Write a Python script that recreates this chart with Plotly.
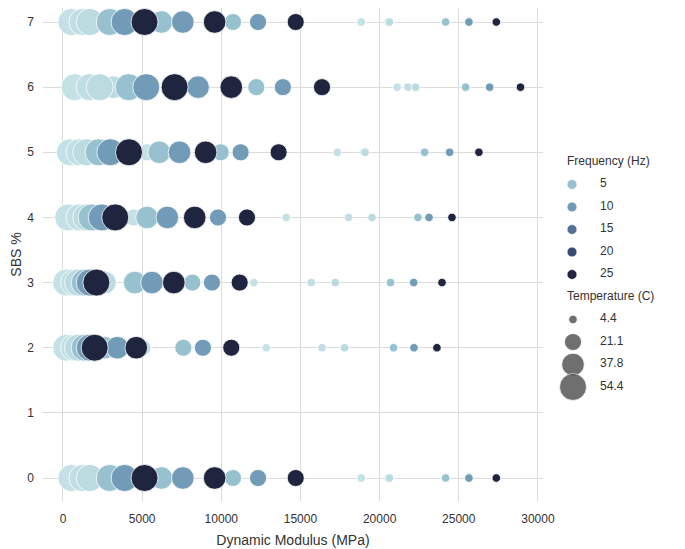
import numpy as np
import pandas as pd
import plotly.graph_objects as go

sbs_levels = [0, 2, 3, 4, 5, 6, 7]
frequencies = [0.1, 0.5, 1, 5, 10, 25]
temperatures = [4.4, 21.1, 37.8, 54.4]

# dynamic modulus (MPa); rows = temperature 4.4/21.1/37.8/54.4, cols = frequency
modulus_sbs0 = [18840, 20550, 20620, 24170, 25640, 27370,
                6250, 7570, 9580, 10740, 12320, 14700,
                2950, 3890, 5150, 6220, 7570, 9580,
                530, 1230, 1690, 2950, 3890, 5150]
modulus_sbs2 = [12840, 16360, 17790, 20880, 22170, 23620,
                3430, 4630, 5000, 7600, 8840, 10630,
                950, 1370, 1690, 2630, 3430, 4630,
                210, 700, 950, 1370, 1690, 2000]
modulus_sbs3 = [12060, 15680, 17200, 20690, 22150, 23940,
                4530, 5620, 7000, 8170, 9410, 11160,
                950, 1370, 2650, 4530, 5620, 7000,
                210, 700, 950, 1370, 1690, 2110]
modulus_sbs4 = [14100, 18040, 19520, 22420, 23120, 24570,
                4460, 5310, 6590, 8320, 9790, 11620,
                1810, 2450, 3300, 5310, 6590, 8320,
                330, 1050, 1470, 1810, 2450, 3300]
modulus_sbs5 = [17330, 19010, 19080, 22840, 24420, 26270,
                5300, 6080, 7360, 9960, 11220, 13620,
                2250, 2990, 4170, 6080, 7360, 9010,
                440, 1050, 1470, 2250, 2990, 4170]
modulus_sbs6 = [21100, 21790, 22270, 25430, 26950, 28900,
                8530, 10600, 10650, 12210, 13890, 16360,
                1690, 2320, 3160, 7050, 8530, 10630,
                740, 1680, 2320, 4150, 5260, 7050]
modulus_sbs7 = [18840, 20550, 20620, 24170, 25640, 27370,
                6250, 7570, 9580, 10740, 12320, 14700,
                2950, 3890, 5150, 6220, 7570, 9580,
                530, 1230, 1690, 2950, 3890, 5150]

hue_legend_ticks = [5, 10, 15, 20, 25]

FONT = "Liberation Sans, Arial, sans-serif"
TEXT = "#333333"
GRID = "#dcdcdc"


def cubehelix(x, start=0.0, rot=-0.2, hue=0.8):
    a = hue * x * (1 - x) / 2
    phi = 2 * np.pi * (start / 3 + rot * x)
    r = x + a * (-0.14861 * np.cos(phi) + 1.78277 * np.sin(phi))
    g = x + a * (-0.29227 * np.cos(phi) - 0.90649 * np.sin(phi))
    b = x + a * (1.97294 * np.cos(phi))
    return [int(round(255 * min(max(c, 0), 1))) for c in (r, g, b)]


# seaborn cubehelix_palette(rot=-.2): light (0.85) to dark (0.15)
colorscale = []
for t in np.linspace(0, 1, 21):
    r, g, b = cubehelix(0.85 - 0.7 * t)
    colorscale.append([float(t), f"rgb({r},{g},{b})"])


def size_px(temp, dmin=8.5, dmax=27):
    # marker area scales linearly with temperature
    frac = (temp - min(temperatures)) / (max(temperatures) - min(temperatures))
    return float(np.sqrt(dmin ** 2 + frac * (dmax ** 2 - dmin ** 2)))


tables = {0: modulus_sbs0, 2: modulus_sbs2, 3: modulus_sbs3, 4: modulus_sbs4,
          5: modulus_sbs5, 6: modulus_sbs6, 7: modulus_sbs7}
rows = []
for sbs in sbs_levels:
    vals = tables[sbs]
    for i, temp in enumerate(temperatures):
        for j, freq in enumerate(frequencies):
            rows.append({"sbs": sbs, "temp": temp, "freq": freq,
                         "modulus": vals[i * len(frequencies) + j]})
df = pd.DataFrame(rows).sort_values("temp", kind="stable")

fig = go.Figure()
fig.add_trace(go.Scatter(
    x=df["modulus"], y=df["sbs"], mode="markers", showlegend=False,
    marker=dict(color=df["freq"], colorscale=colorscale, cmin=min(frequencies),
                cmax=max(frequencies), size=[size_px(t) for t in df["temp"]],
                line=dict(color="white", width=0.8), opacity=1),
))

# legend built on a hidden side axis
n_hue = len(hue_legend_ticks)
hue_rows = list(range(1, n_hue + 1))
temp_rows = list(range(n_hue + 2, n_hue + 2 + len(temperatures)))
fig.add_trace(go.Scatter(
    x=[29] * n_hue, y=hue_rows, xaxis="x2", yaxis="y2", mode="markers",
    showlegend=False, hoverinfo="skip",
    marker=dict(color=hue_legend_ticks, colorscale=colorscale, cmin=min(frequencies),
                cmax=max(frequencies), size=10, line=dict(color="white", width=0.8)),
))
fig.add_trace(go.Scatter(
    x=[30] * len(temperatures), y=temp_rows, xaxis="x2", yaxis="y2", mode="markers",
    showlegend=False, hoverinfo="skip",
    marker=dict(color="#333333", size=[size_px(t) for t in temperatures],
                line=dict(color="white", width=0.8)),
))
fig.add_trace(go.Scatter(
    x=[57] * (n_hue + len(temperatures)), y=hue_rows + temp_rows,
    xaxis="x2", yaxis="y2", mode="text", showlegend=False, hoverinfo="skip",
    text=[str(v) for v in hue_legend_ticks] + [str(v) for v in temperatures],
    textposition="middle right", textfont=dict(family=FONT, size=12, color=TEXT),
))
fig.add_trace(go.Scatter(
    x=[24, 24], y=[0, n_hue + 1], xaxis="x2", yaxis="y2", mode="text",
    showlegend=False, hoverinfo="skip",
    text=["Frequency (Hz)", "Temperature (C)"],
    textposition="middle right", textfont=dict(family=FONT, size=12, color=TEXT),
))

fig.update_layout(
    width=669, height=541,
    margin=dict(l=35, r=0, t=0, b=48),
    paper_bgcolor="white", plot_bgcolor="white",
    font=dict(family=FONT, size=12, color=TEXT),
    xaxis=dict(domain=[0, 500 / 634], range=[-1263, 30320], tickformat="d",
               tickvals=list(range(0, 30001, 5000)), showgrid=True, gridcolor=GRID,
               gridwidth=1, zeroline=False, showline=False, ticks="",
               ticklabelstandoff=9, automargin=False,
               title=dict(text="Dynamic Modulus (MPa)", standoff=10),
               tickfont=dict(size=12, color=TEXT)),
    yaxis=dict(range=[-0.353, 7.215], tickvals=list(range(0, 8)), showgrid=True,
               gridcolor=GRID, gridwidth=1, zeroline=False, showline=False, ticks="",
               title=dict(text="SBS %", standoff=18), ticklabelstandoff=8,
               automargin=False, tickfont=dict(size=12, color=TEXT)),
    xaxis2=dict(domain=[500 / 634, 1], range=[0, 134], visible=False, anchor="y2"),
    yaxis2=dict(domain=[0, 1], range=[15.067, -6.844], visible=False, anchor="x2"),
)

fig.write_html("out.html")
